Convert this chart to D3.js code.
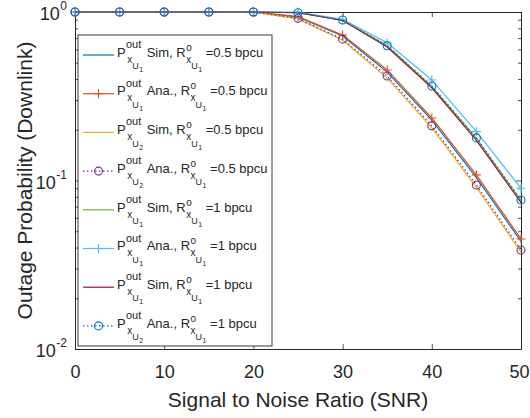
<!DOCTYPE html>
<html><head><meta charset="utf-8">
<script src="https://cdn.jsdelivr.net/npm/d3@7"></script>
<style>body{margin:0;background:#fff;} text{font-family:"Liberation Sans",Arial,Helvetica,sans-serif;}</style>
</head><body>
<svg id="c" width="530" height="418"></svg>
<script>
const snr = [0,5,10,15,20,25,30,35,40,45,50];
const simU1R05 = [1,1,1,1,1,0.935,0.72,0.44,0.228,0.104,0.0435];
const anaU1R05 = [1,1,1,1,1,0.938,0.73,0.453,0.235,0.108,0.045];
const simU2R05 = [1,1,1,1,1,0.91,0.68,0.405,0.205,0.091,0.0375];
const anaU2R05 = [1,1,1,1,1,0.917,0.69,0.417,0.211,0.094,0.0387];
const simU1R1a = [1,1,1,1,1,0.99,0.895,0.63,0.362,0.178,0.076];
const anaU1R1  = [1,1,1,1,1,1,0.905,0.657,0.395,0.195,0.090];
const simU1R1b = [1,1,1,1,1,0.99,0.89,0.62,0.355,0.173,0.074];
const anaU2R1  = [1,1,1,1,1,0.99,0.897,0.631,0.364,0.179,0.0766];
const xTicks = [0,10,20,30,40,50];
const yTicks = [1,0.1,0.01];
const yTickExp = ["0","-1","-2"];
const yMinor = [0.02,0.03,0.04,0.05,0.06,0.07,0.08,0.09,0.2,0.3,0.4,0.5,0.6,0.7,0.8,0.9];
const legendKinds = ["Sim,","Ana.,","Sim,","Ana.,","Sim,","Ana.,","Sim,","Ana.,"];
const legendUsers = ["1","1","2","2","1","1","1","2"];
const legendRates = ["=0.5 bpcu","=0.5 bpcu","=0.5 bpcu","=0.5 bpcu","=1 bpcu","=1 bpcu","=1 bpcu","=1 bpcu"];
const xLabel = "Signal to Noise Ratio (SNR)";
const yLabel = "Outage Probability (Downlink)";

const seriesValues = [simU1R05, anaU1R05, simU2R05, anaU2R05, simU1R1a, anaU1R1, simU1R1b, anaU2R1];
const seriesColors = ["#0072BD","#D95319","#EDB120","#7E2F8E","#77AC30","#4DBEEE","#A2142F","#0072BD"];
const seriesDash = [null,null,null,"1.5,2.5",null,null,null,"1.5,2.5"];
const seriesMarker = [null,"plus",null,"circle",null,"plus",null,"circle"];

const svg = d3.select("#c");
const axisColor = "#262626";
const x = d3.scaleLinear().domain([0,50]).range([75,521]);
const y = d3.scaleLog().domain([0.01,1]).range([349,12]);

function styleAxis(g){
  g.selectAll("path.domain").attr("stroke",axisColor).attr("stroke-width",1);
  g.selectAll(".tick line").attr("stroke",axisColor).attr("stroke-width",0.8);
}
const gx = svg.append("g").attr("transform","translate(0,349)")
  .call(d3.axisBottom(x).tickValues(xTicks).tickSize(-5).tickSizeOuter(0).tickPadding(16).tickFormat(d3.format("d")));
styleAxis(gx);
gx.selectAll(".tick text").attr("font-size",18).attr("fill",axisColor).attr("font-family","Liberation Sans, Arial, sans-serif");
gx.selectAll(".tick text").filter(d=>d===50).attr("dx",-2);
const gxt = svg.append("g").attr("transform","translate(0,12)")
  .call(d3.axisTop(x).tickValues(xTicks).tickSize(-5).tickSizeOuter(0).tickFormat(""));
styleAxis(gxt);
const gy = svg.append("g").attr("transform","translate(75,0)")
  .call(d3.axisLeft(y).tickValues(yTicks).tickSize(-5).tickSizeOuter(0).tickFormat(""));
styleAxis(gy);
const gym = svg.append("g").attr("transform","translate(75,0)")
  .call(d3.axisLeft(y).tickValues(yMinor).tickSize(-3).tickSizeOuter(0).tickFormat(""));
styleAxis(gym); gym.select("path.domain").remove();
const gyr = svg.append("g").attr("transform","translate(521,0)")
  .call(d3.axisRight(y).tickValues(yTicks).tickSize(-5).tickSizeOuter(0).tickFormat(""));
styleAxis(gyr);
const gyrm = svg.append("g").attr("transform","translate(521,0)")
  .call(d3.axisRight(y).tickValues(yMinor).tickSize(-3).tickSizeOuter(0).tickFormat(""));
styleAxis(gyrm); gyrm.select("path.domain").remove();

function txt(g,xx,yy,s,size,anchor){
  const t = g.append("text").attr("x",xx).attr("y",yy).attr("font-size",size)
    .attr("fill",axisColor).attr("text-anchor",anchor||"start").text(s);
  return t.node().getComputedTextLength();
}
const gyl = svg.append("g");
yTicks.forEach((v,i)=>{
  const ty = y(v);
  const tmp = gyl.append("text").attr("font-size",12).text(yTickExp[i]);
  const ws = tmp.node().getComputedTextLength(); tmp.remove();
  txt(gyl,67,ty-2,yTickExp[i],12,"end");
  txt(gyl,67-ws-0.5,ty+8,"10",18,"end");
});

svg.append("text").attr("x",298).attr("y",407).attr("text-anchor","middle")
  .attr("font-size",21).attr("fill",axisColor).text(xLabel);
svg.append("text").attr("transform","translate(32,180.5) rotate(-90)").attr("text-anchor","middle")
  .attr("font-size",21).attr("fill",axisColor).text(yLabel);

const line = d3.line().x((d,i)=>x(snr[i])).y(d=>y(d));
function drawMarker(g,type,cx,cy,color){
  if(type==="plus"){
    g.append("path").attr("d",`M${cx-4.5},${cy}H${cx+4.5}M${cx},${cy-4.5}V${cy+4.5}`)
      .attr("stroke",color).attr("stroke-width",1.1).attr("fill","none");
  } else if(type==="circle"){
    g.append("circle").attr("cx",cx).attr("cy",cy).attr("r",4)
      .attr("stroke",color).attr("stroke-width",1.1).attr("fill","none");
  }
}
const gs = svg.append("g");
seriesValues.forEach((vals,k)=>{
  const g = gs.append("g");
  g.append("path").datum(vals).attr("d",line).attr("fill","none")
    .attr("stroke",seriesColors[k]).attr("stroke-width",1.2)
    .attr("stroke-dasharray",seriesDash[k]);
  if(seriesMarker[k]){
    vals.forEach((v,i)=>drawMarker(g,seriesMarker[k],x(snr[i]),y(v),seriesColors[k]));
  }
});

const lg = svg.append("g");
lg.append("rect").attr("x",78).attr("y",35).attr("width",194).attr("height",311)
  .attr("fill","#fff").attr("stroke",axisColor).attr("stroke-width",0.9);
function subChain(g,x0,yb,user){
  let w1 = txt(g,x0,yb+6,"x",10);
  let w2 = txt(g,x0+w1,yb+12.5,"U",9);
  let w3 = txt(g,x0+w1+w2+0.5,yb+15.5,user,7);
  return w1+w2+0.5+w3;
}
legendKinds.forEach((kind,i)=>{
  const ry = 55 + i*38.7;
  const g = lg.append("g");
  g.append("line").attr("x1",83).attr("x2",114).attr("y1",ry).attr("y2",ry)
    .attr("stroke",seriesColors[i]).attr("stroke-width",1.2).attr("stroke-dasharray",seriesDash[i]);
  if(seriesMarker[i]) drawMarker(g,seriesMarker[i],98.5,ry,seriesColors[i]);
  const yb = ry + 1.7;
  let cx = 117;
  cx += txt(g,cx,yb,"P",13);
  const ws = txt(g,cx+0.3,yb-8.7,"out",11);
  const wsub = subChain(g,cx+1.5,yb,legendUsers[i]);
  cx += Math.max(ws+0.3, wsub+1.5);
  cx += txt(g,cx,yb,"\u00a0" + kind + " R",13);
  const ws2 = txt(g,cx+0.5,yb-6,"o",10);
  const wsub2 = subChain(g,cx+0.5,yb,"1");
  cx += Math.max(ws2+0.5, wsub2+0.5);
  txt(g,cx,yb,"\u00a0" + legendRates[i],13);
});
</script>
</body></html>
